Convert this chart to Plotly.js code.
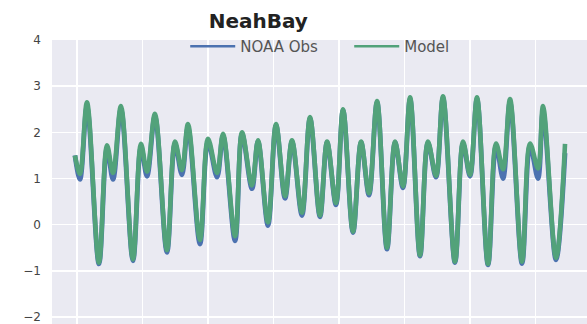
<!DOCTYPE html>
<html>
<head>
<meta charset="utf-8">
<script src="https://cdn.plot.ly/plotly-3.0.1.min.js"></script>
<style>
  html, body { margin: 0; padding: 0; background: #fff; }
  #chart { width: 587px; height: 324px; }
</style>
</head>
<body>
<div id="chart"></div>
<script>
// Hours since start of the record (turning points of the tide)
const hours = [-1.5, 2.2, 7.3, 16.1, 22.0, 26.4, 32.2, 41.0, 46.9, 51.3, 57.1, 65.9, 71.8, 76.9, 81.3,
  90.1, 96.0, 102.6, 107.0, 115.8, 120.9, 128.2, 132.6, 139.9, 145.8, 152.4, 157.5, 164.8, 170.7,
  178.0, 183.2, 189.7, 194.9, 202.2, 208.1, 213.9, 219.8, 227.1, 233.0, 238.8, 244.0, 251.3, 257.1,
  263.0, 268.1, 276.9, 282.8, 287.9, 293.0, 301.1, 307.0, 312.1, 317.2, 326.0, 331.9, 337.7, 341.4,
  350.9, 357.5];

// Water level (m) – NOAA observations
const noaaObs = [1.5, 0.98, 2.55, -0.85, 1.65, 0.98, 2.5, -0.78, 1.68, 1.05, 2.35, -0.6, 1.75, 1.08, 2.1,
  -0.42, 1.8, 1.03, 1.93, -0.35, 1.97, 0.78, 1.8, -0.02, 2.15, 0.57, 1.8, 0.2, 2.3,
  0.17, 1.78, 0.43, 2.48, -0.17, 1.78, 0.64, 2.65, -0.53, 1.78, 0.8, 2.72, -0.68, 1.77,
  1.03, 2.74, -0.82, 1.76, 1.05, 2.72, -0.87, 1.72, 1.0, 2.65, -0.84, 1.72, 1.0, 2.45,
  -0.76, 1.55];

// Water level (m) – Model
const model = [1.5, 1.1, 2.65, -0.82, 1.72, 1.12, 2.57, -0.75, 1.75, 1.15, 2.4, -0.55, 1.8, 1.18, 2.18,
  -0.33, 1.86, 1.12, 1.97, -0.25, 2.0, 0.85, 1.83, 0.05, 2.18, 0.62, 1.83, 0.26, 2.33,
  0.2, 1.8, 0.47, 2.5, -0.15, 1.8, 0.68, 2.68, -0.5, 1.8, 0.83, 2.76, -0.66, 1.8,
  1.06, 2.78, -0.8, 1.8, 1.08, 2.76, -0.85, 1.76, 1.2, 2.72, -0.8, 1.76, 1.22, 2.57,
  -0.72, 1.75];

const seriesNames = ['NOAA Obs', 'Model'];
const seriesColors = ['#4c72b0', '#52a27a'];
const chartTitle = 'NeahBay';
const yTicks = [-2, -1, 0, 1, 2, 3, 4];
const xGrid = [0, 48, 96, 144, 192, 240, 288, 336];

const traces = [
  {x: hours, y: noaaObs, name: seriesNames[0], type: 'scatter', mode: 'lines', showlegend: false,
   line: {color: seriesColors[0], width: 4.8, shape: 'spline', smoothing: 1}},
  {x: hours, y: model, name: seriesNames[1], type: 'scatter', mode: 'lines', showlegend: false,
   line: {color: seriesColors[1], width: 4.6, shape: 'spline', smoothing: 1}},
  // legend keys (thinner lines, as in the reference legend)
  {x: [null], y: [null], name: seriesNames[0], type: 'scatter', mode: 'lines',
   line: {color: seriesColors[0], width: 2.5}, hoverinfo: 'skip'},
  {x: [null], y: [null], name: seriesNames[1], type: 'scatter', mode: 'lines',
   line: {color: seriesColors[1], width: 2.5}, hoverinfo: 'skip'}
];

const layout = {
  width: 587, height: 324,
  margin: {l: 52, r: 0, t: 40, b: 0, pad: 0},
  paper_bgcolor: '#ffffff',
  plot_bgcolor: '#eaeaf2',
  font: {family: 'DejaVu Sans, sans-serif', color: '#444'},
  title: {text: '<b>' + chartTitle + '</b>', x: 0.44, xref: 'container', xanchor: 'center',
          y: 0.935, yref: 'container', yanchor: 'middle',
          font: {family: 'DejaVu Sans', size: 20, color: '#222'}},
  showlegend: true,
  legend: {orientation: 'h', x: 0.249, xanchor: 'left', y: 1.035, yanchor: 'top',
           bgcolor: 'rgba(0,0,0,0)', font: {size: 15, color: '#555'},
           itemwidth: 45, entrywidth: 104},
  xaxis: {range: [-18.3, 373.6], tickvals: xGrid, showticklabels: false, ticks: '',
          showgrid: true, gridcolor: '#ffffff', gridwidth: 1.5, zeroline: false, showline: false},
  yaxis: {range: [-2.15, 4], tickvals: yTicks, ticks: '', ticklabelstandoff: 10,
          ticklabeloverflow: 'allow',
          tickfont: {size: 12, color: '#444'},
          showgrid: true, gridcolor: '#ffffff', gridwidth: 1.5, zeroline: false, showline: false}
};

Plotly.newPlot('chart', traces, layout, {displayModeBar: false, staticPlot: true});
</script>
</body>
</html>
